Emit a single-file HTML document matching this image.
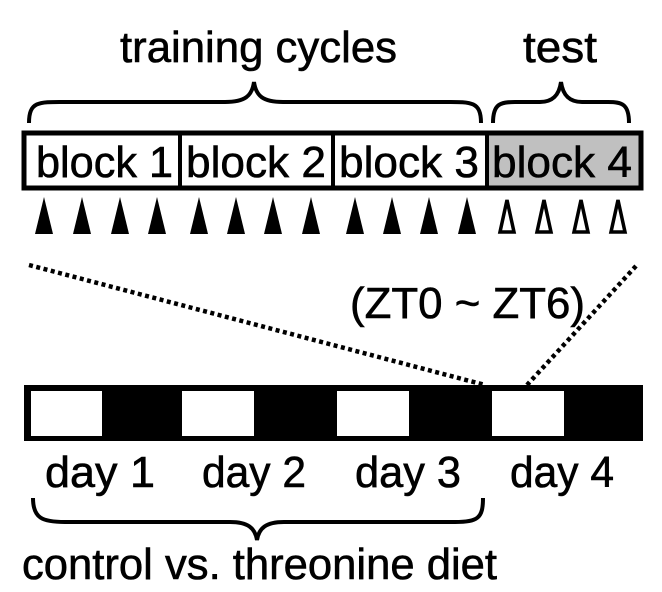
<!DOCTYPE html>
<html><head><style>body{margin:0;background:#fff}svg{display:block}</style></head>
<body>
<svg width="662" height="592" viewBox="0 0 662 592" xmlns="http://www.w3.org/2000/svg" font-family="Liberation Sans, Arial, sans-serif" fill="#000">
<g stroke="#000" stroke-width="0.6">
<text x="120" y="62" font-size="44" textLength="277" lengthAdjust="spacingAndGlyphs">training cycles</text>
<text x="523" y="62" font-size="44" textLength="74" lengthAdjust="spacingAndGlyphs">test</text>
</g>
<g fill="none" stroke="#000" stroke-width="4">
<path d="M29 123 C29 100 40 102 70 102 L225 102 C245 102 252 96 254 82 C256 96 263 102 283 102 L440 102 C470 102 481 100 481 123"/>
<path d="M493 123 C493 104 500 102 515 102 L540 102 C552 102 559 96 561 82 C563 96 570 102 582 102 L608 102 C622 102 629 104 629 123"/>
<path d="M33 498 C33 518 42 522 65 522 L230 522 C248 522 255 528 257 540 C259 528 266 522 284 522 L455 522 C478 522 483 518 483 498"/>
</g>
<rect x="487" y="133" width="154" height="55" fill="#c0c0c0"/>
<rect x="24" y="133" width="617" height="55" fill="none" stroke="#000" stroke-width="5"/>
<line x1="180" y1="133" x2="180" y2="188" stroke="#000" stroke-width="4"/>
<line x1="333" y1="133" x2="333" y2="188" stroke="#000" stroke-width="4"/>
<line x1="487" y1="133" x2="487" y2="188" stroke="#000" stroke-width="4"/>
<g font-size="44" stroke="#000" stroke-width="0.6">
<text x="36" y="177" textLength="137" lengthAdjust="spacingAndGlyphs">block 1</text>
<text x="186" y="177" textLength="140" lengthAdjust="spacingAndGlyphs">block 2</text>
<text x="339" y="177" textLength="140" lengthAdjust="spacingAndGlyphs">block 3</text>
<text x="492" y="177" textLength="140" lengthAdjust="spacingAndGlyphs">block 4</text>
</g>
<g>
<polygon points="44,197 35,234 53,234"/>
<polygon points="82,197 73,234 91,234"/>
<polygon points="120,197 111,234 129,234"/>
<polygon points="157,197 148,234 166,234"/>
<polygon points="199,197 190,234 208,234"/>
<polygon points="236,197 227,234 245,234"/>
<polygon points="273,197 264,234 282,234"/>
<polygon points="311,197 302,234 320,234"/>
<polygon points="355,197 346,234 364,234"/>
<polygon points="392,197 383,234 401,234"/>
<polygon points="429,197 420,234 438,234"/>
<polygon points="467,197 458,234 476,234"/>
</g>
<g fill="none" stroke="#000" stroke-width="3.5">
<polygon points="507,200 500,232 514,232"/>
<polygon points="544,200 537,232 551,232"/>
<polygon points="581,200 574,232 588,232"/>
<polygon points="618,200 611,232 625,232"/>
</g>
<g stroke="#000" stroke-width="4.5" stroke-dasharray="4 3.5">
<line x1="29" y1="265" x2="485" y2="385"/>
<line x1="636" y1="266" x2="527" y2="385"/>
</g>
<g font-size="44" stroke="#000" stroke-width="0.6">
<text x="350" y="318" textLength="235" lengthAdjust="spacingAndGlyphs">(ZT0 ~ ZT6)</text>
</g>
<rect x="24" y="385" width="619" height="56"/>
<rect x="31" y="391" width="71" height="45" fill="#fff"/>
<rect x="182" y="391" width="72" height="45" fill="#fff"/>
<rect x="337" y="391" width="72" height="45" fill="#fff"/>
<rect x="492" y="391" width="72" height="45" fill="#fff"/>
<g font-size="44" stroke="#000" stroke-width="0.6">
<text x="45" y="487" textLength="110" lengthAdjust="spacingAndGlyphs">day 1</text>
<text x="202" y="487" textLength="104" lengthAdjust="spacingAndGlyphs">day 2</text>
<text x="355" y="487" textLength="106" lengthAdjust="spacingAndGlyphs">day 3</text>
<text x="510" y="487" textLength="104" lengthAdjust="spacingAndGlyphs">day 4</text>
<text x="22" y="579" textLength="475" lengthAdjust="spacingAndGlyphs">control vs. threonine diet</text>
</g>
</svg>
</body></html>
